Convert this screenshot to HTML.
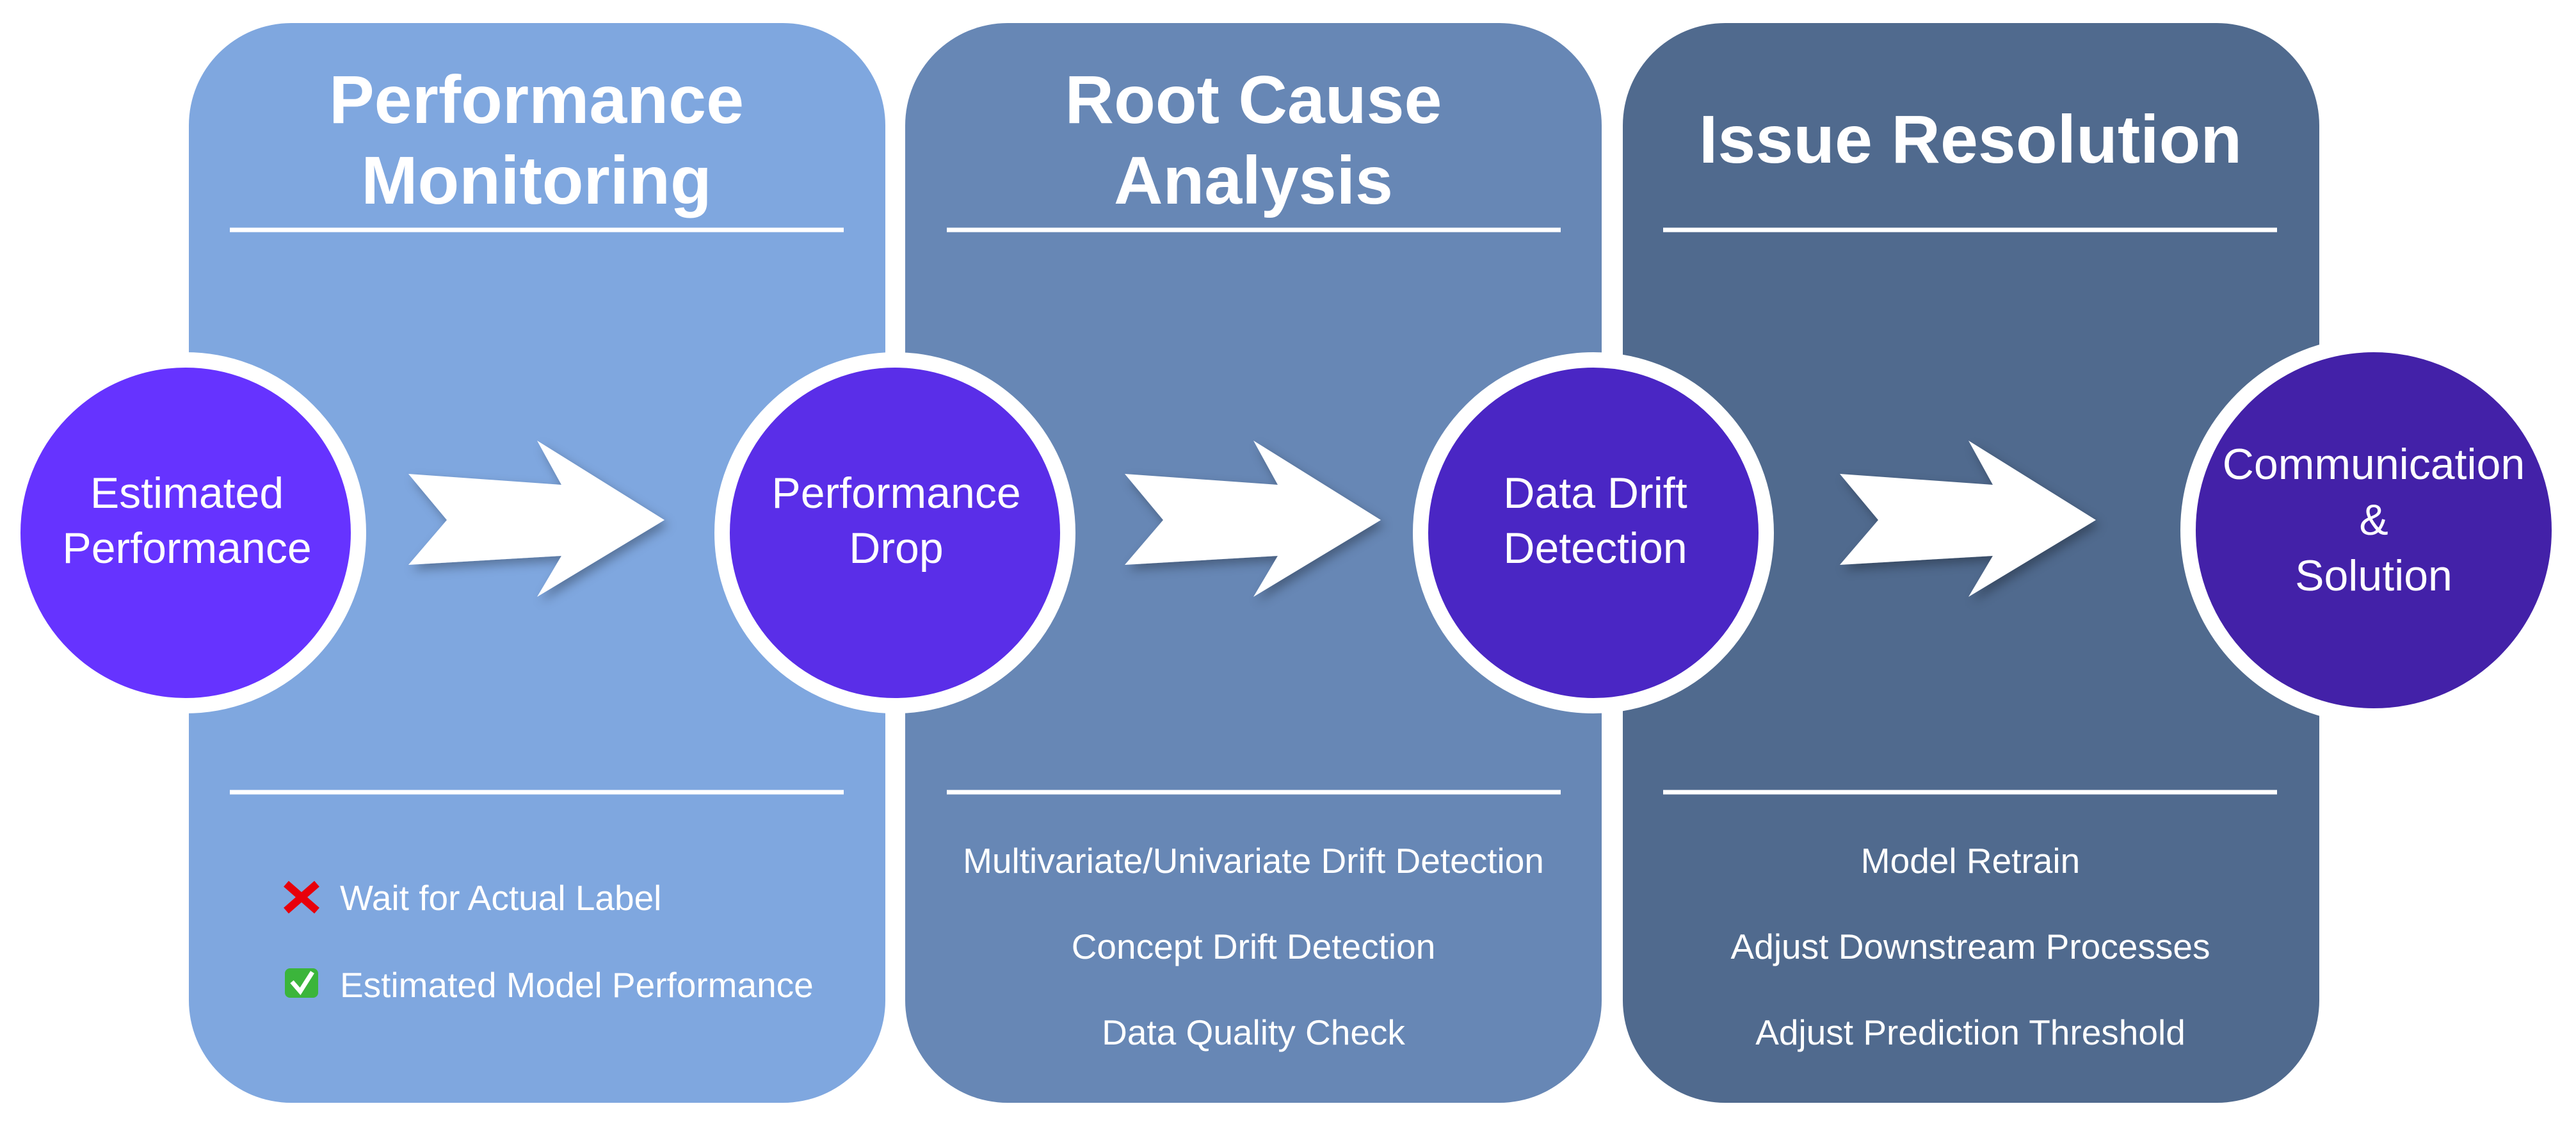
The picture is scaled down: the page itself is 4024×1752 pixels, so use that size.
<!DOCTYPE html>
<html><head><meta charset="utf-8"><style>
html,body{margin:0;padding:0;background:#fff;width:4024px;height:1752px;overflow:hidden}
text{font-family:"Liberation Sans",sans-serif;fill:#fff}
</style></head><body>
<svg width="4024" height="1752" viewBox="0 0 4024 1752" xmlns="http://www.w3.org/2000/svg">
<defs>
<filter id="sh" x="-20%" y="-20%" width="150%" height="150%"><feDropShadow dx="6" dy="8" stdDeviation="8" flood-color="#000" flood-opacity="0.3"/></filter>
<path id="arr" d="M638,740 L877,757 L839,688 L1038,812 L839,932 L877,868 L638,882 L698,812 Z"/>
</defs>
<rect x="295" y="36" width="1088" height="1686" rx="160" fill="#7FA7DF"/>
<rect x="1414" y="36" width="1088" height="1686" rx="160" fill="#6787B5"/>
<rect x="2535" y="36" width="1088" height="1686" rx="160" fill="#506A8E"/>
<g stroke="#fff" stroke-width="7">
<line x1="359" y1="359" x2="1318" y2="359"/><line x1="359" y1="1237" x2="1318" y2="1237"/>
<line x1="1479" y1="359" x2="2438" y2="359"/><line x1="1479" y1="1237" x2="2438" y2="1237"/>
<line x1="2598" y1="359" x2="3557" y2="359"/><line x1="2598" y1="1237" x2="3557" y2="1237"/>
</g>
<g font-weight="bold" font-size="106" text-anchor="middle">
<text x="838" y="192">Performance</text><text x="838" y="318">Monitoring</text>
<text x="1958" y="192">Root Cause</text><text x="1958" y="318">Analysis</text>
<text x="3078" y="254">Issue Resolution</text>
</g>
<g fill="#fff" filter="url(#sh)">
<use href="#arr"/>
<use href="#arr" transform="translate(1119,0)"/>
<use href="#arr" transform="translate(2236,0)"/>
</g>
<g stroke="#fff" stroke-width="24">
<circle cx="290" cy="832" r="270" fill="#6633FF"/>
<circle cx="1398" cy="832" r="270" fill="#5A2EE8"/>
<circle cx="2489" cy="832" r="270" fill="#4A26C4"/>
<circle cx="3708" cy="828" r="290" fill="#4321A8"/>
</g>
<g font-size="68" text-anchor="middle">
<text x="292" y="793">Estimated</text><text x="292" y="879">Performance</text>
<text x="1400" y="793">Performance</text><text x="1400" y="879">Drop</text>
<text x="2492" y="793">Data Drift</text><text x="2492" y="879">Detection</text>
<text x="3708" y="748">Communication</text><text x="3708" y="835">&amp;</text><text x="3708" y="922">Solution</text>
</g>
<g font-size="55">
<text x="531" y="1421">Wait for Actual Label</text>
<text x="531" y="1557">Estimated Model Performance</text>
</g>
<g stroke="#E8000B" stroke-width="12"><line x1="447" y1="1380" x2="495" y2="1422"/><line x1="495" y1="1380" x2="447" y2="1422"/></g>
<rect x="445" y="1512" width="52" height="46" rx="8" fill="#3BB53B"/>
<path d="M456,1533 L469,1548 L488,1518" stroke="#fff" stroke-width="7" fill="none"/>
<g font-size="55" text-anchor="middle">
<text x="1958" y="1363">Multivariate/Univariate Drift Detection</text>
<text x="1958" y="1497">Concept Drift Detection</text>
<text x="1958" y="1631">Data Quality Check</text>
<text x="3078" y="1363">Model Retrain</text>
<text x="3078" y="1497">Adjust Downstream Processes</text>
<text x="3078" y="1631">Adjust Prediction Threshold</text>
</g>
</svg>
</body></html>
